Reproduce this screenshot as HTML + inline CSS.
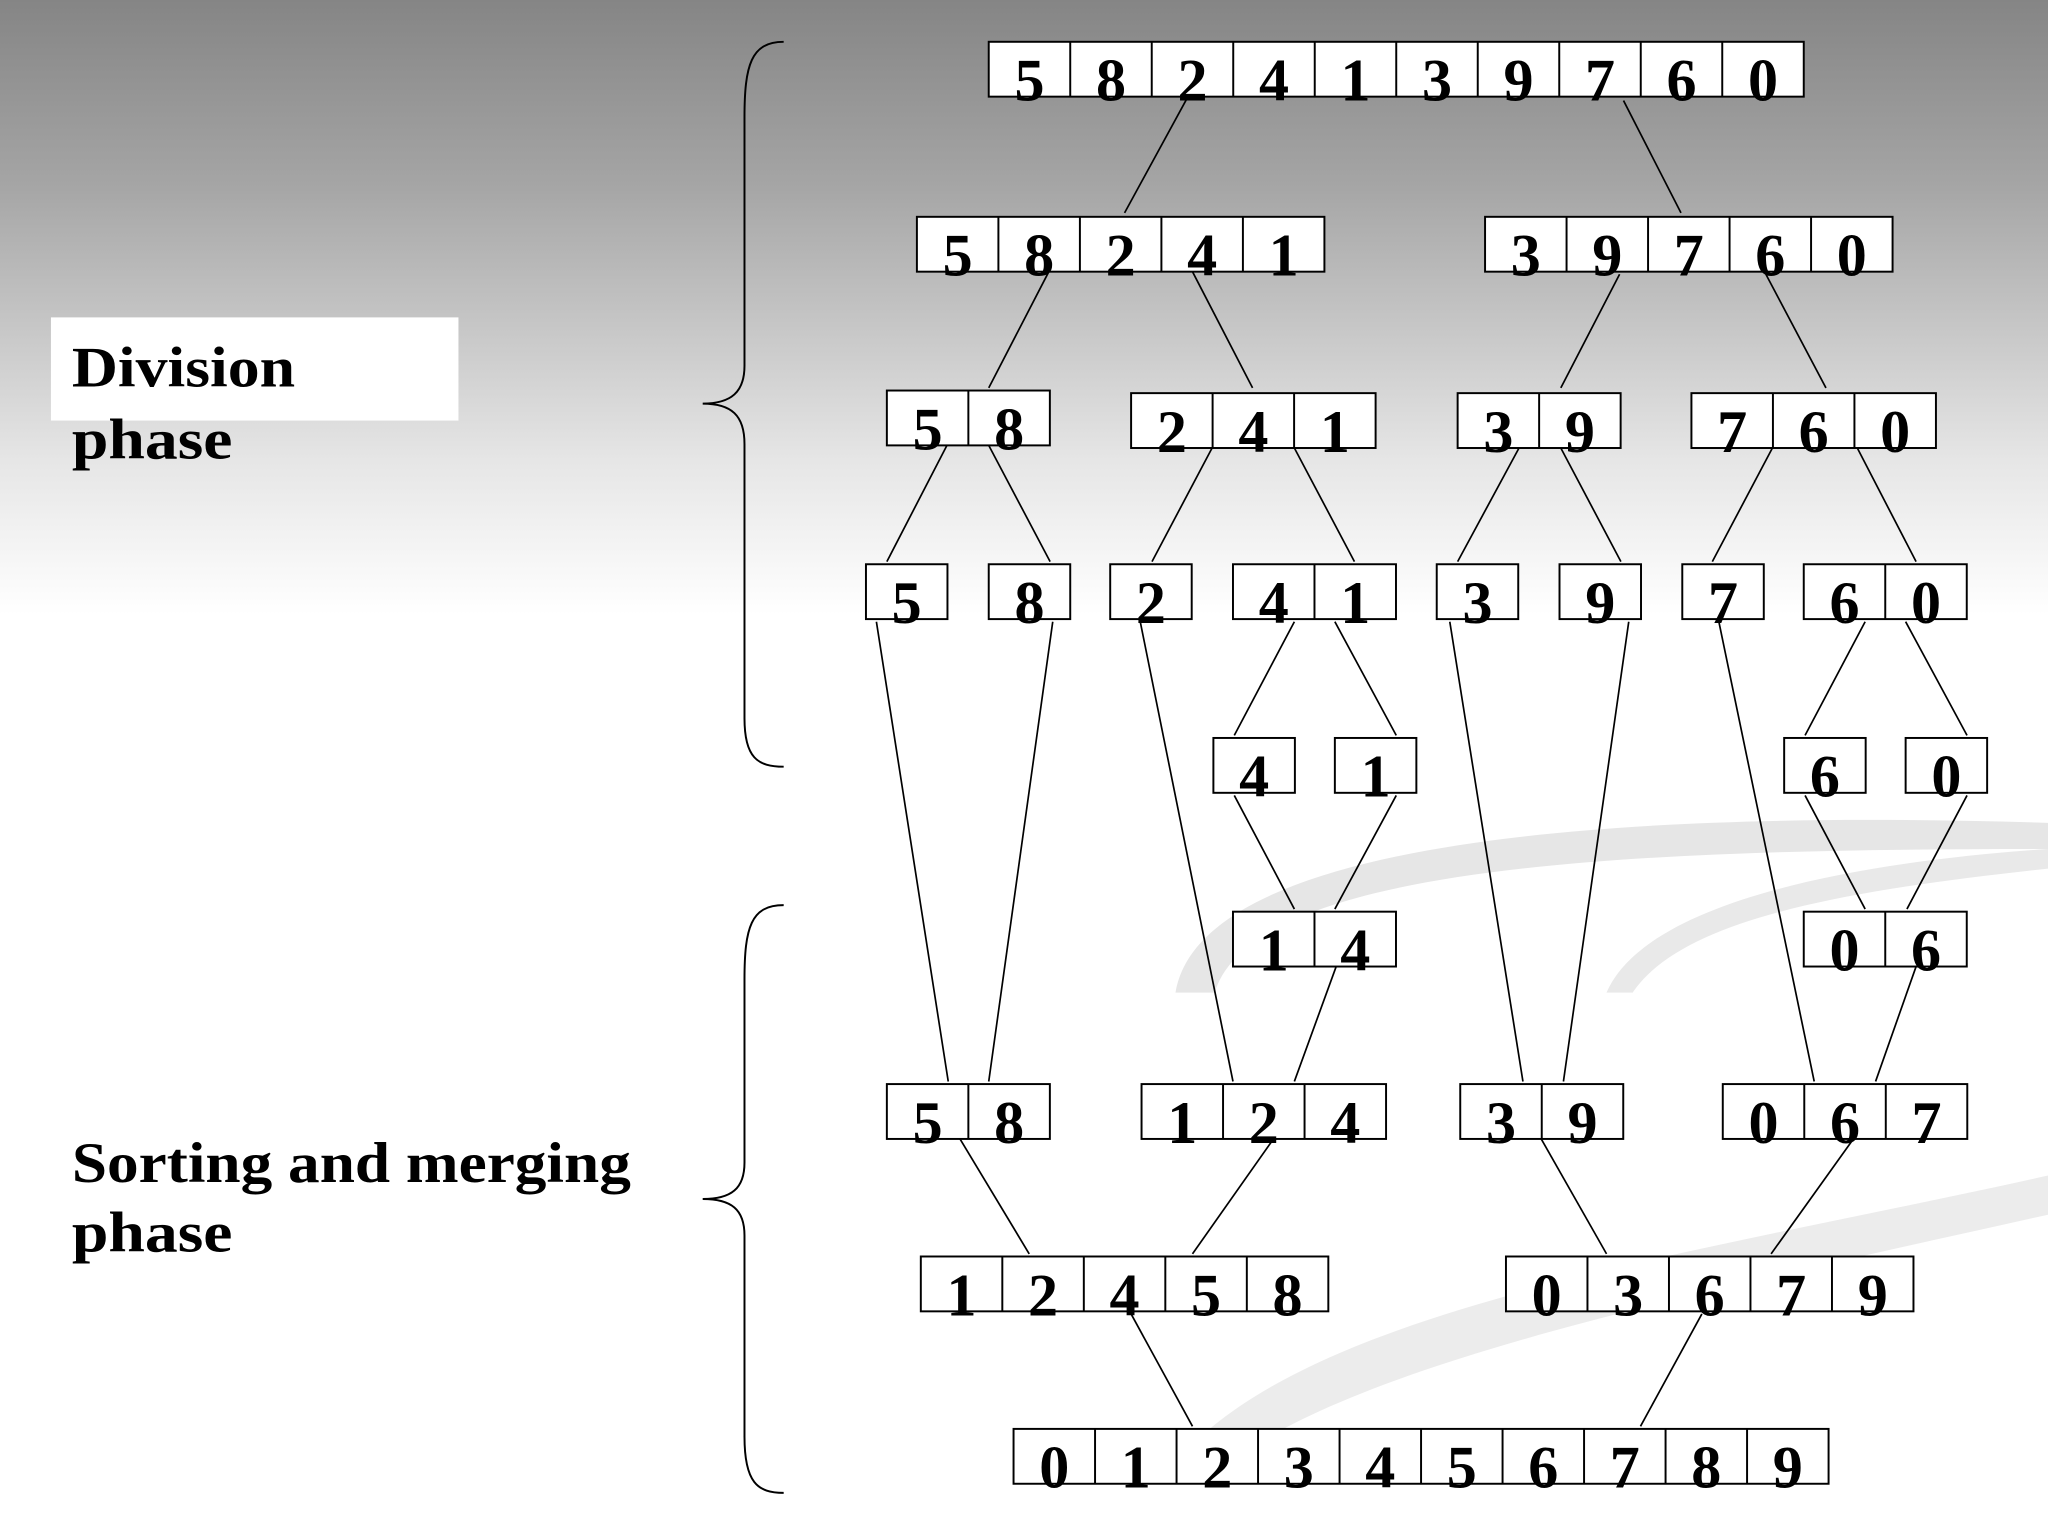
<!DOCTYPE html>
<html><head><style>html,body{margin:0;padding:0;width:2048px;height:1536px;overflow:hidden}</style></head>
<body>
<svg width="2048" height="1536" viewBox="0 0 1568 1176" xmlns="http://www.w3.org/2000/svg">
<defs>
<linearGradient id="g" x1="0" y1="0" x2="0" y2="1"><stop offset="0" stop-color="#858585"/><stop offset="0.12" stop-color="#a5a5a5"/><stop offset="0.3" stop-color="#e6e6e6"/><stop offset="0.4" stop-color="#ffffff"/><stop offset="1" stop-color="#ffffff"/></linearGradient>
<g id="f1"><rect x="0" y="0" width="62.4" height="42" fill="#fff" stroke="#000" stroke-width="1.5"/></g>
<g id="f2"><rect x="0" y="0" width="124.8" height="42" fill="#fff" stroke="#000" stroke-width="1.5"/><path d="M62.4 0V42" stroke="#000" stroke-width="1.5"/></g>
<g id="f3"><rect x="0" y="0" width="187.2" height="42" fill="#fff" stroke="#000" stroke-width="1.5"/><path d="M62.4 0V42M124.8 0V42" stroke="#000" stroke-width="1.5"/></g>
<g id="f5"><rect x="0" y="0" width="312" height="42" fill="#fff" stroke="#000" stroke-width="1.5"/><path d="M62.4 0V42M124.8 0V42M187.2 0V42M249.6 0V42" stroke="#000" stroke-width="1.5"/></g>
<g id="f10"><rect x="0" y="0" width="624" height="42" fill="#fff" stroke="#000" stroke-width="1.5"/><path d="M62.4 0V42M124.8 0V42M187.2 0V42M249.6 0V42M312 0V42M374.4 0V42M436.8 0V42M499.2 0V42M561.6 0V42" stroke="#000" stroke-width="1.5"/></g>
</defs>
<rect width="1568" height="1176" fill="url(#g)"/>
<path d="M900 760 C920 640 1250 620 1568 630 L1568 650 C1260 650 960 660 930 760 Z" fill="#e6e6e6"/>
<path d="M1230 760 C1260 690 1420 660 1568 650 L1568 665 C1430 680 1290 700 1250 760 Z" fill="#e9e9e9"/>
<path d="M900 1120 C1000 1000 1300 960 1568 900 L1568 930 C1300 990 1050 1040 940 1120 Z" fill="#ececec"/>
<g fill="none" stroke="#000" stroke-width="1.5">
<path d="M600 32 C575 32 570 50 570 90 L570 280 C570 300 560 309 538 309 C560 309 570 318 570 340 L570 550 C570 580 580 587 600 587"/>
<path d="M600 693 C575 693 570 710 570 750 L570 890 C570 910 560 918 538 918 C560 918 570 926 570 946 L570 1100 C570 1135 580 1143 600 1143"/>
</g>
<rect x="39" y="243" width="312" height="79" fill="#fff"/>
<g font-family="Liberation Serif, serif" font-weight="bold" font-size="44" fill="#000">
<text x="55" y="296" textLength="171" lengthAdjust="spacingAndGlyphs">Division</text>
<text x="55" y="351" textLength="123" lengthAdjust="spacingAndGlyphs">phase</text>
<text x="55" y="905" textLength="428" lengthAdjust="spacingAndGlyphs">Sorting and merging</text>
<text x="55" y="958" textLength="123" lengthAdjust="spacingAndGlyphs">phase</text>
</g>
<g stroke="#000" stroke-width="1.3" fill="none">
<line x1="909" y1="75" x2="861" y2="163"/><line x1="1243" y1="77" x2="1287" y2="163"/>
<line x1="803" y1="208" x2="757" y2="297"/><line x1="913" y1="208" x2="959" y2="297"/><line x1="1240" y1="210" x2="1195" y2="297"/><line x1="1352" y1="210" x2="1398" y2="297"/>
<line x1="725" y1="341" x2="679" y2="430"/><line x1="757" y1="341" x2="804" y2="430"/><line x1="928" y1="343" x2="882" y2="430"/><line x1="991" y1="343" x2="1037" y2="430"/><line x1="1163" y1="343" x2="1116" y2="430"/><line x1="1195" y1="343" x2="1241" y2="430"/><line x1="1357" y1="343" x2="1311" y2="430"/><line x1="1422" y1="343" x2="1467" y2="430"/>
<line x1="991" y1="476" x2="945" y2="563"/><line x1="1022" y1="476" x2="1069" y2="563"/><line x1="1428" y1="476" x2="1382" y2="563"/><line x1="1459" y1="476" x2="1506" y2="563"/>
<line x1="945" y1="609" x2="991" y2="696"/><line x1="1069" y1="609" x2="1022" y2="696"/><line x1="1382" y1="609" x2="1428" y2="696"/><line x1="1506" y1="609" x2="1460" y2="696"/>
<line x1="671" y1="476" x2="726" y2="828"/><line x1="806" y1="476" x2="757" y2="828"/><line x1="873" y1="476" x2="944" y2="828"/><line x1="1023" y1="740" x2="991" y2="828"/><line x1="1110" y1="476" x2="1166" y2="828"/><line x1="1247" y1="476" x2="1197" y2="828"/><line x1="1316" y1="476" x2="1389" y2="828"/><line x1="1467" y1="740" x2="1436" y2="828"/>
<line x1="735" y1="872" x2="788" y2="960"/><line x1="975" y1="872" x2="913" y2="960"/><line x1="1180" y1="872" x2="1230" y2="960"/><line x1="1419" y1="872" x2="1356" y2="960"/>
<line x1="866" y1="1006" x2="913" y2="1092"/><line x1="1303" y1="1006" x2="1256" y2="1092"/>
</g>
<g font-family="Liberation Serif, serif" font-weight="bold" font-size="46" text-anchor="middle" fill="#000">
<g transform="translate(757,32)"><use href="#f10"/><text x="31.2 93.6 156 218.4 280.8 343.2 405.6 468 530.4 592.8" y="45">5824139760</text></g>
<g transform="translate(702,166)"><use href="#f5"/><text x="31.2 93.6 156 218.4 280.8" y="45">58241</text></g>
<g transform="translate(1137,166)"><use href="#f5"/><text x="31.2 93.6 156 218.4 280.8" y="45">39760</text></g>
<g transform="translate(679,299)"><use href="#f2"/><text x="31.2 93.6" y="45">58</text></g>
<g transform="translate(866,301)"><use href="#f3"/><text x="31.2 93.6 156" y="45">241</text></g>
<g transform="translate(1116,301)"><use href="#f2"/><text x="31.2 93.6" y="45">39</text></g>
<g transform="translate(1295,301)"><use href="#f3"/><text x="31.2 93.6 156" y="45">760</text></g>
<g transform="translate(663,432)"><use href="#f1"/><text x="31.2" y="45">5</text></g>
<g transform="translate(757,432)"><use href="#f1"/><text x="31.2" y="45">8</text></g>
<g transform="translate(850,432)"><use href="#f1"/><text x="31.2" y="45">2</text></g>
<g transform="translate(944,432)"><use href="#f2"/><text x="31.2 93.6" y="45">41</text></g>
<g transform="translate(1100,432)"><use href="#f1"/><text x="31.2" y="45">3</text></g>
<g transform="translate(1194,432)"><use href="#f1"/><text x="31.2" y="45">9</text></g>
<g transform="translate(1288,432)"><use href="#f1"/><text x="31.2" y="45">7</text></g>
<g transform="translate(1381,432)"><use href="#f2"/><text x="31.2 93.6" y="45">60</text></g>
<g transform="translate(929,565)"><use href="#f1"/><text x="31.2" y="45">4</text></g>
<g transform="translate(1022,565)"><use href="#f1"/><text x="31.2" y="45">1</text></g>
<g transform="translate(1366,565)"><use href="#f1"/><text x="31.2" y="45">6</text></g>
<g transform="translate(1459,565)"><use href="#f1"/><text x="31.2" y="45">0</text></g>
<g transform="translate(944,698)"><use href="#f2"/><text x="31.2 93.6" y="45">14</text></g>
<g transform="translate(1381,698)"><use href="#f2"/><text x="31.2 93.6" y="45">06</text></g>
<g transform="translate(679,830)"><use href="#f2"/><text x="31.2 93.6" y="45">58</text></g>
<g transform="translate(874,830)"><use href="#f3"/><text x="31.2 93.6 156" y="45">124</text></g>
<g transform="translate(1118,830)"><use href="#f2"/><text x="31.2 93.6" y="45">39</text></g>
<g transform="translate(1319,830)"><use href="#f3"/><text x="31.2 93.6 156" y="45">067</text></g>
<g transform="translate(705,962)"><use href="#f5"/><text x="31.2 93.6 156 218.4 280.8" y="45">12458</text></g>
<g transform="translate(1153,962)"><use href="#f5"/><text x="31.2 93.6 156 218.4 280.8" y="45">03679</text></g>
<g transform="translate(776,1094)"><use href="#f10"/><text x="31.2 93.6 156 218.4 280.8 343.2 405.6 468 530.4 592.8" y="45">0123456789</text></g>
</g>
</svg>
</body></html>
